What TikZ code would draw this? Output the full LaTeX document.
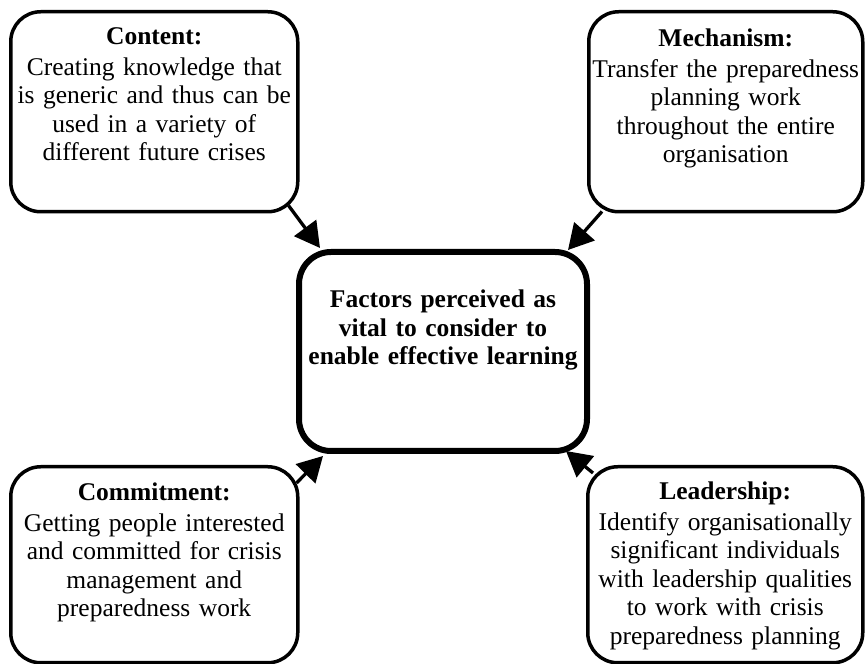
\documentclass[tikz,border=0pt]{standalone}
\usepackage{fontspec}
\setmainfont{Liberation Serif}
\usetikzlibrary{arrows.meta}

\begin{document}
\begin{tikzpicture}[x=1pt,y=1pt,
  factor/.style={draw, line width=3.5pt, rounded corners=30pt, inner sep=0pt,
    align=center, anchor=north west, font=\fontsize{25.5}{28.5}\selectfont},
  feed/.style={line width=3.3pt, -{Triangle[length=25pt,width=27pt]}}]
  \useasboundingbox (0,0) rectangle (865,664);

  \node (content) at (9,654) [factor, text width=287pt, text height=33pt, text depth=167pt]
    {\textbf{Content:}\\[2pt] Creating knowledge that\\ is generic and thus can be\\
     used in a variety of\\ different future crises};

  \node (mechanism) at (587,654) [factor, text width=274pt, text height=35pt, text depth=165pt]
    {\textbf{Mechanism:}\\[2pt] Transfer the preparedness\\ planning work\\
     throughout the entire\\ organisation};

  \node (factors) at (296,415) [factor, line width=6pt, rounded corners=32pt,
    text width=288pt, text height=56pt, text depth=143pt]
    {\textbf{Factors perceived as}\\ \textbf{vital to consider to}\\
     \textbf{enable effective learning}};

  \node (commitment) at (9,199) [factor, text width=287pt, text height=34pt, text depth=162pt]
    {\textbf{Commitment:}\\[2pt] Getting people interested\\ and committed for crisis\\
     management and\\ preparedness work};

  \node (leadership) at (586,199) [factor, text width=275pt, text height=33pt, text depth=163pt]
    {\textbf{Leadership:}\\[2pt] Identify organisationally\\ significant individuals\\
     with leadership qualities\\ to work with crisis\\ preparedness planning};

  \draw[feed] ([shift={(-11pt,8pt)}]content.south east) -- ([shift={(24pt,1pt)}]factors.north west);
  \draw[feed] ([shift={(15pt,2pt)}]mechanism.south west) -- ([shift={(-22pt,-1pt)}]factors.north east);
  \draw[feed] ([shift={(-3pt,-18pt)}]commitment.north east) -- ([shift={(27pt,-2pt)}]factors.south west);
  \draw[feed] ([shift={(7pt,-8pt)}]leadership.north west) -- ([shift={(-24pt,3pt)}]factors.south east);

\end{tikzpicture}
\end{document}
